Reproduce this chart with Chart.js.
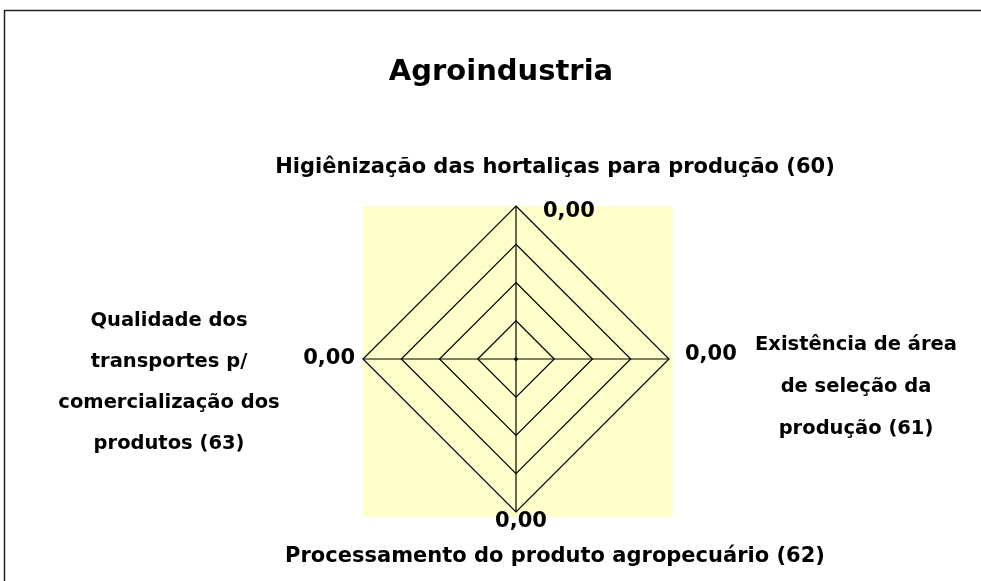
<!DOCTYPE html>
<html>
<head>
<meta charset="utf-8">
<script src="https://cdn.jsdelivr.net/npm/chart.js@4.4.1/dist/chart.umd.min.js"></script>
<style>
    html, body { margin: 0; padding: 0; background: #fff; }
    #wrap { width: 981px; height: 581px; position: relative; }
</style>
</head>
<body>
<div id="wrap"><canvas id="radarChart"></canvas></div>
<script>
// Chart data
const chartTitle = 'Agroindustria';
const categories = [
    ['Higiênização das hortaliças para produção (60)'],
    ['Existência de área', 'de seleção da', 'produção (61)'],
    ['Processamento do produto agropecuário (62)'],
    ['Qualidade dos', 'transportes p/', 'comercialização dos', 'produtos (63)']
];
const scores = [0, 0, 0, 0];
const scaleMin = 0;
const scaleMax = 4;
const scaleStep = 1;

const FONT = '"DejaVu Sans", sans-serif';

// where each category / value label sits relative to the end of its axis
const catOffsets = [
    { dx: 39, dy: -38, lh: 0, size: 21 },
    { dx: 187, dy: -14, lh: 42, size: 19.5 },
    { dx: 39, dy: 45, lh: 0, size: 21 },
    { dx: -194, dy: -38, lh: 41, size: 19.5 }
];
const valOffsets = [
    { dx: 27, dy: 6, align: 'left' },
    { dx: 16, dy: -4, align: 'left' },
    { dx: 5, dy: 10, align: 'center' },
    { dx: -8, dy: 0, align: 'right' }
];

const fmt = v => v.toFixed(2).replace('.', ',');

const framePlugin = {
    id: 'frame',
    beforeDraw(chart) {
        const { ctx, chartArea } = chart;
        ctx.save();
        ctx.fillStyle = '#fff';
        ctx.fillRect(0, 0, chart.width, chart.height);
        // plot area fill
        ctx.fillStyle = '#FFFFCC';
        ctx.fillRect(chartArea.left, chartArea.top, chartArea.width + 4, chartArea.height + 5);
        // outer frame
        ctx.strokeStyle = '#222';
        ctx.lineWidth = 1.5;
        ctx.strokeRect(4.5, 10.5, chart.width + 20, chart.height + 20);
        ctx.restore();
    },
    afterDraw(chart) {
        const { ctx } = chart;
        const scale = chart.scales.r;
        ctx.save();
        ctx.fillStyle = '#000';

        // title
        ctx.font = 'bold 29px ' + FONT;
        ctx.textAlign = 'center';
        ctx.textBaseline = 'middle';
        ctx.fillText(chartTitle, 501, 72);

        categories.forEach((lines, i) => {
            const p = scale.getPointPositionForValue(i, scaleMax);
            // category text
            const c = catOffsets[i];
            ctx.font = 'bold ' + c.size + 'px ' + FONT;
            ctx.textAlign = 'center';
            lines.forEach((ln, j) => {
                ctx.fillText(ln, p.x + c.dx, p.y + c.dy + j * c.lh);
            });
            // value label
            const v = valOffsets[i];
            ctx.font = 'bold 21px ' + FONT;
            ctx.textAlign = v.align;
            ctx.fillText(fmt(scores[i]), p.x + v.dx, p.y + v.dy);
        });
        ctx.restore();
    }
};

new Chart(document.getElementById('radarChart'), {
    type: 'radar',
    data: {
        labels: categories,
        datasets: [{
            label: chartTitle,
            data: scores,
            borderColor: '#000',
            backgroundColor: 'transparent',
            borderWidth: 1,
            pointRadius: 1.5,
            pointBackgroundColor: '#000',
            pointBorderWidth: 0
        }]
    },
    options: {
        responsive: true,
        maintainAspectRatio: false,
        animation: false,
        layout: {
            padding: { left: 363, right: 312, top: 206, bottom: 69 }
        },
        plugins: {
            legend: { display: false },
            tooltip: { enabled: false }
        },
        scales: {
            r: {
                min: scaleMin,
                max: scaleMax,
                ticks: { stepSize: scaleStep, display: false },
                grid: { color: '#000', lineWidth: 1.2 },
                angleLines: { color: '#000', lineWidth: 1.2 },
                pointLabels: { display: false }
            }
        }
    },
    plugins: [framePlugin]
});
</script>
</body>
</html>
